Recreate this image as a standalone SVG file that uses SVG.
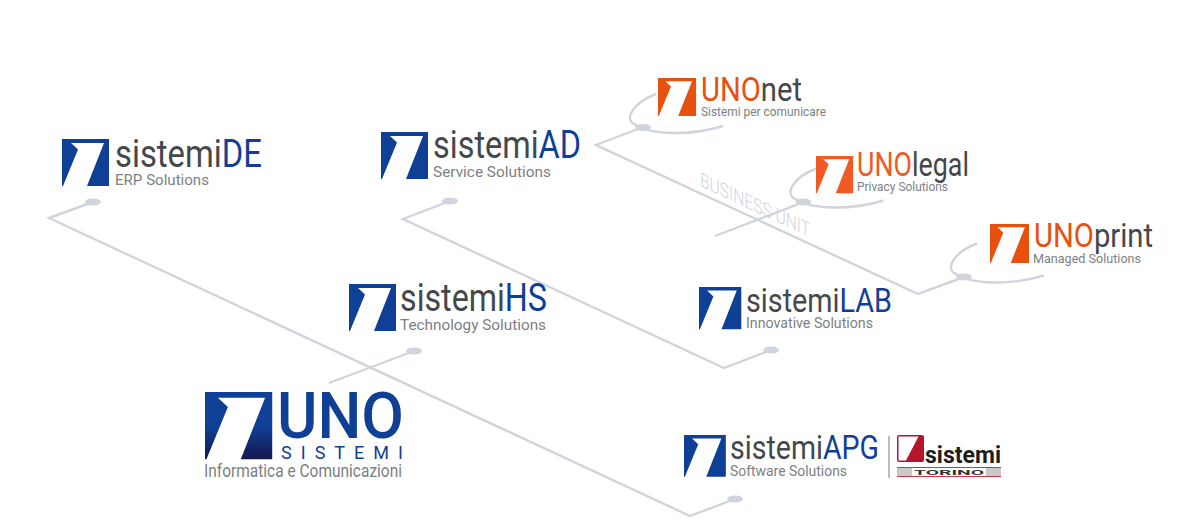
<svg xmlns="http://www.w3.org/2000/svg" width="1200" height="531" viewBox="0 0 1200 531">
<style>
text{font-family:"Roboto","Liberation Sans",sans-serif}
.t{font-size:38px;font-weight:400;fill:#45484b}
.ts{font-size:33px;font-weight:400;fill:#45484b}
.b{fill:#0f4096}
.o{fill:#e8500e}
.l{fill:#f15a24}
.s{font-size:15.500px;fill:#7c7f83}
.sm{font-size:13.500px;fill:#7c7f83}
.c{fill:none;stroke:#d0d4dc;stroke-width:2.400}
.a{fill:none;stroke:#d0d4dc;stroke-width:2.400}
.d{fill:#d0d4dc}
</style>
<defs>
<path id="m" d="M0,0H47V47H25L42,4H9L16,10.500L1,47H0Z"/>
<linearGradient id="g" x1="0" y1="0" x2="0" y2="1"><stop offset="0.5" stop-color="#0f4096"/><stop offset="1" stop-color="#14184f"/></linearGradient>
<g id="arc"><path class="a" d="M656,94C634,102 622,120 636,125C652,135 690,136 723,126"/><ellipse class="d" cx="643" cy="127.500" rx="8" ry="3.500"/></g>
</defs>
<g id="connectors">
<path class="c" d="M93,202L49,218L690,516L735,499"/>
<ellipse class="d" cx="93" cy="202" rx="8" ry="3.500"/>
<ellipse class="d" cx="735" cy="499" rx="8" ry="3.500"/>
<path class="c" d="M450,201L403,219L724,368L771,350"/>
<ellipse class="d" cx="450" cy="201" rx="8" ry="3.500"/>
<ellipse class="d" cx="771" cy="350" rx="8" ry="3.500"/>
<path class="c" d="M643,127L596,145L918,294L964,277"/>
<path class="c" d="M414,351L329,383"/>
<ellipse class="d" cx="414" cy="351" rx="8" ry="3.500"/>
<path class="c" d="M804,202L715,236"/>
<use href="#arc"/>
<use href="#arc" x="160.500" y="74.500"/>
<use href="#arc" x="321" y="149.500"/>
</g>
<text id="business-unit" transform="translate(700,186) skewY(25)" font-size="20" font-weight="300" fill="#d0d4dc" textLength="110" lengthAdjust="spacingAndGlyphs">BUSINESS UNIT</text>
<g id="sistemiDE">
<use href="#m" class="b" transform="translate(62,139)"/>
<text class="t" x="115" y="167" textLength="147" lengthAdjust="spacingAndGlyphs">sistemi<tspan class="b">DE</tspan></text>
<text class="s" x="115" y="185" textLength="94" lengthAdjust="spacingAndGlyphs">ERP Solutions</text>
</g>
<g id="sistemiAD">
<use href="#m" class="b" transform="translate(381,132)"/>
<text class="t" x="433" y="158" textLength="148" lengthAdjust="spacingAndGlyphs">sistemi<tspan class="b">AD</tspan></text>
<text class="s" x="433" y="177" textLength="118" lengthAdjust="spacingAndGlyphs">Service Solutions</text>
</g>
<g id="sistemiHS">
<use href="#m" class="b" transform="translate(349,284)"/>
<text class="t" x="400" y="311" textLength="147" lengthAdjust="spacingAndGlyphs">sistemi<tspan class="b">HS</tspan></text>
<text class="s" x="400" y="330" textLength="146" lengthAdjust="spacingAndGlyphs">Technology Solutions</text>
</g>
<g id="sistemiLAB">
<use href="#m" class="b" transform="translate(699,287) scale(.9)"/>
<text class="ts" x="746" y="312" textLength="146" lengthAdjust="spacingAndGlyphs">sistemi<tspan class="b">LAB</tspan></text>
<text class="s" x="746" y="328" textLength="127" lengthAdjust="spacingAndGlyphs">Innovative Solutions</text>
</g>
<g id="sistemiAPG">
<use href="#m" class="b" transform="translate(684,435) scale(.89)"/>
<text class="ts" x="730" y="459" textLength="149" lengthAdjust="spacingAndGlyphs">sistemi<tspan class="b">APG</tspan></text>
<text class="s" x="730" y="476" textLength="117" lengthAdjust="spacingAndGlyphs">Software Solutions</text>
<path d="M889,436V478" stroke="#8d8f92" stroke-width="1.200"/>
</g>
<g id="sistemiTorino">
<rect x="897" y="435" width="27" height="27" rx="2" fill="#b5152b"/>
<path d="M898.500,460.500V436.500H918.500L906,460.500Z" fill="#fff"/>
<text x="925" y="463" font-size="24" font-weight="700" fill="#1d1d1b" textLength="76" lengthAdjust="spacingAndGlyphs">sistemi</text>
<rect x="897" y="467" width="104" height="10" fill="#c9c9c9"/>
<path d="M897,467.500H1001M897,476.500H1001" stroke="#c8374a"/>
<rect x="912" y="468" width="74" height="8" fill="#fff"/>
<text x="914" y="475" font-size="7" font-weight="700" fill="#333" textLength="70" lengthAdjust="spacingAndGlyphs">TORINO</text>
</g>
<g id="UNOnet">
<use href="#m" class="o" transform="translate(658,78) scale(.81)"/>
<text class="ts" x="701" y="101" textLength="101" lengthAdjust="spacingAndGlyphs"><tspan class="o">UNO</tspan>net</text>
<text class="sm" x="701" y="116" textLength="125" lengthAdjust="spacingAndGlyphs">Sistemi per comunicare</text>
</g>
<g id="UNOlegal">
<use href="#m" class="l" transform="translate(816,156) scale(.79)"/>
<text class="ts" x="857" y="176" textLength="112" lengthAdjust="spacingAndGlyphs"><tspan class="l">UNO</tspan>legal</text>
<text class="sm" x="857" y="191" textLength="91" lengthAdjust="spacingAndGlyphs">Privacy Solutions</text>
</g>
<g id="UNOprint">
<use href="#m" class="o" transform="translate(990,224) scale(.83)"/>
<text class="ts" x="1034" y="247" textLength="119" lengthAdjust="spacingAndGlyphs"><tspan class="o">UNO</tspan>print</text>
<text class="sm" x="1033" y="263" textLength="108" lengthAdjust="spacingAndGlyphs">Managed Solutions</text>
</g>
<g id="UNOsistemi">
<use href="#m" fill="url(#g)" transform="translate(205,392) scale(1.43)"/>
<text x="277" y="438" font-size="65" font-weight="500" style="fill:#0f4096" textLength="127" lengthAdjust="spacingAndGlyphs">UNO</text>
<text x="281" y="459" font-size="18" style="fill:#0f4096" textLength="122" lengthAdjust="spacing">SISTEMI</text>
<text x="204" y="477" font-size="18" fill="#7c7f83" textLength="198" lengthAdjust="spacingAndGlyphs">Informatica e Comunicazioni</text>
</g>
</svg>
